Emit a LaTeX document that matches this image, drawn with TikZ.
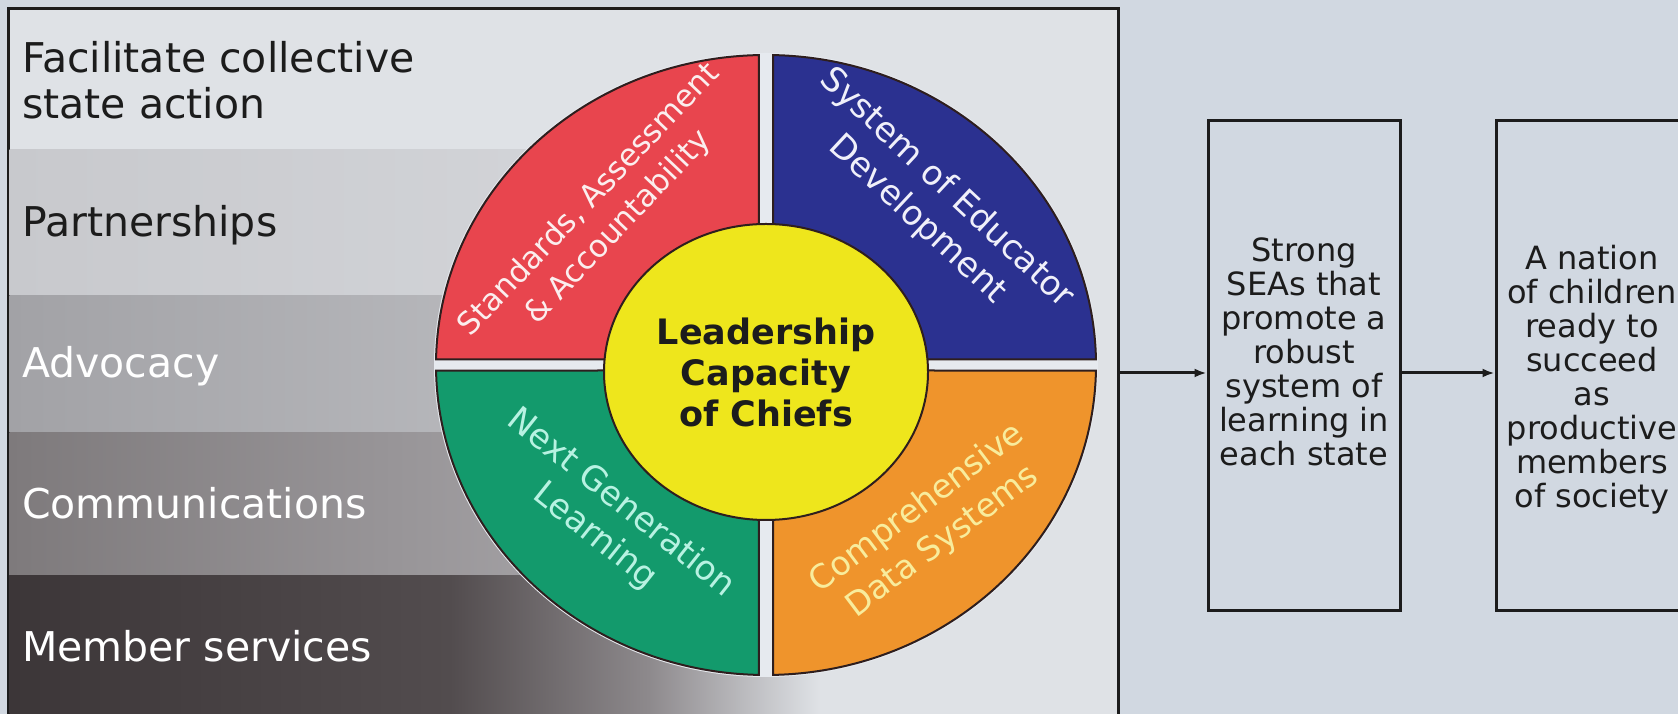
\documentclass[tikz,border=0pt]{standalone}
\usepackage{fontspec}
\setmainfont{DejaVu Sans}
\usepackage{xcolor}
\usepackage{tikz}
\usetikzlibrary{positioning,calc,arrows.meta}
\definecolor{paperBlue}{HTML}{D1D8E1}
\definecolor{panelGrey}{HTML}{DFE2E6}
\definecolor{bandLight}{HTML}{C8C9CD}
\definecolor{bandLightR}{HTML}{D6D8DC}
\definecolor{bandMid}{HTML}{A2A2A6}
\definecolor{bandMidR}{HTML}{C4C5C9}
\definecolor{bandDeep}{HTML}{7E7A7C}
\definecolor{bandDeepR}{HTML}{B2B0B4}
\definecolor{bandDark}{HTML}{3C3638}
\definecolor{bandDarkM}{HTML}{524C4E}
\definecolor{bandDarkL}{HTML}{8E8A8D}
\definecolor{ringRed}{HTML}{E8454E}
\definecolor{ringBlue}{HTML}{2B3190}
\definecolor{ringGreen}{HTML}{139A6C}
\definecolor{ringOrange}{HTML}{EF942C}
\definecolor{coreYellow}{HTML}{EEE61C}
\definecolor{ringEdge}{HTML}{2E1E1E}
\definecolor{gapWhite}{HTML}{E6EAEF}
\definecolor{inkDark}{HTML}{1C1C1C}
\definecolor{labelRed}{HTML}{FBEEEE}
\definecolor{labelBlue}{HTML}{F0F0FA}
\definecolor{labelGreen}{HTML}{B8F2E2}
\definecolor{labelOrange}{HTML}{F8EC9C}

\begin{document}
\begin{tikzpicture}[x=1pt,y=1pt,
  sidelabel/.style={anchor=base west,align=left,inner sep=0pt,font=\fontsize{41}{46}\selectfont},
  ringlabel/.style={align=center,inner sep=0pt},
  outcomebox/.style={draw=inkDark,line width=3pt,minimum width=192pt,minimum height=490pt,inner sep=0pt},
  outcometext/.style={align=center,text=inkDark,inner sep=0pt,font=\fontsize{32}{34}\selectfont},
  flowarrow/.style={draw=inkDark,line width=3pt,-{Latex[length=12pt,width=9pt]}}]
  \useasboundingbox (0,0) rectangle (1678,714);
  \clip (0,0) rectangle (1678,714);
  \fill[paperBlue] (0,0) rectangle (1678,714);

  \node[draw=inkDark,fill=panelGrey,line width=3pt,minimum width=1110pt,minimum height=720pt,inner sep=0pt] (panel) at (563,345) {};
  \foreach \ytop/\ybot/\lc/\rc in {564/418/bandLight/bandLightR,418/281/bandMid/bandMidR,281/138/bandDeep/bandDeepR}{
    \shade[left color=\lc,right color=\rc] (9.5,\ybot) rectangle (780,\ytop);
  }
  \shade[left color=bandDark,right color=bandDarkM] (9.5,-5) rectangle (451,138);
  \shade[left color=bandDarkM,right color=bandDarkL] (450,-5) rectangle (651,138);
  \shade[left color=bandDarkL,right color=panelGrey] (650,-5) rectangle (820,138);

  \coordinate (hub) at (766,349);
  \fill[gapWhite] (hub) ellipse [x radius=332,y radius=312];
  \foreach \sa/\ea/\dx/\dy/\col in {91.22/178.98/-7/5.5/ringRed,1.02/88.78/7/5.5/ringBlue,181.02/268.78/-7/-5.5/ringGreen,271.22/358.98/7/-5.5/ringOrange}{
    \filldraw[fill=\col,draw=ringEdge,line width=2pt] ($(hub)+(\dx,\dy)$) -- ($(hub)+(\sa:330 and 310)$)
      arc[start angle=\sa,end angle=\ea,x radius=330,y radius=310] -- cycle;
  }
  \filldraw[fill=coreYellow,draw=ringEdge,line width=2pt] (766,342) ellipse [x radius=162,y radius=148];
  \node[align=center,text=inkDark,font=\bfseries\fontsize{35}{41}\selectfont] (core) at (766,342) {Leadership\\Capacity\\of Chiefs};

  \node[ringlabel,text=labelRed,rotate=46.5,font=\fontsize{31}{40}\selectfont] (standards) at (604,500) {Standards, Assessment\\\& Accountability};
  \node[ringlabel,text=labelBlue,rotate=-43,font=\fontsize{34}{43}\selectfont] (educators) at (932,510) {System of Educator\\Development};
  \node[ringlabel,text=labelGreen,rotate=-38.5,font=\fontsize{34}{42}\selectfont] (nextgen) at (608,194) {Next Generation\\Learning};
  \node[ringlabel,text=labelOrange,rotate=37,font=\fontsize{33}{42}\selectfont] (datasys) at (930,189) {Comprehensive\\Data Systems};

  \node[sidelabel,text=inkDark] (facilitate) at (22,595) {Facilitate collective\\state action};
  \node[sidelabel,text=inkDark] (partners) at (22,477) {Partnerships};
  \node[sidelabel,text=white] (advocacy) at (22,336) {Advocacy};
  \node[sidelabel,text=white] (comms) at (22,195) {Communications};
  \node[sidelabel,text=white] (members) at (22,52) {Member services};

  \node[outcomebox] (seaBox) at (1304,348) {};
  \node[outcomebox] (nationBox) at (1592,348) {};
  \node[outcometext] (seaText) at ([yshift=14pt]seaBox.center) {Strong\\SEAs that\\promote a\\robust\\system of\\learning in\\each state};
  \node[outcometext] (nationText) at ([yshift=-14pt]nationBox.center) {A nation\\of children\\ready to\\succeed\\as\\productive\\members\\of society};

  \coordinate (flowY) at (0,341);
  \draw[flowarrow] (panel.east |- flowY) -- (seaBox.west |- flowY);
  \draw[flowarrow] (seaBox.east |- flowY) -- (nationBox.west |- flowY);
\end{tikzpicture}
\end{document}
